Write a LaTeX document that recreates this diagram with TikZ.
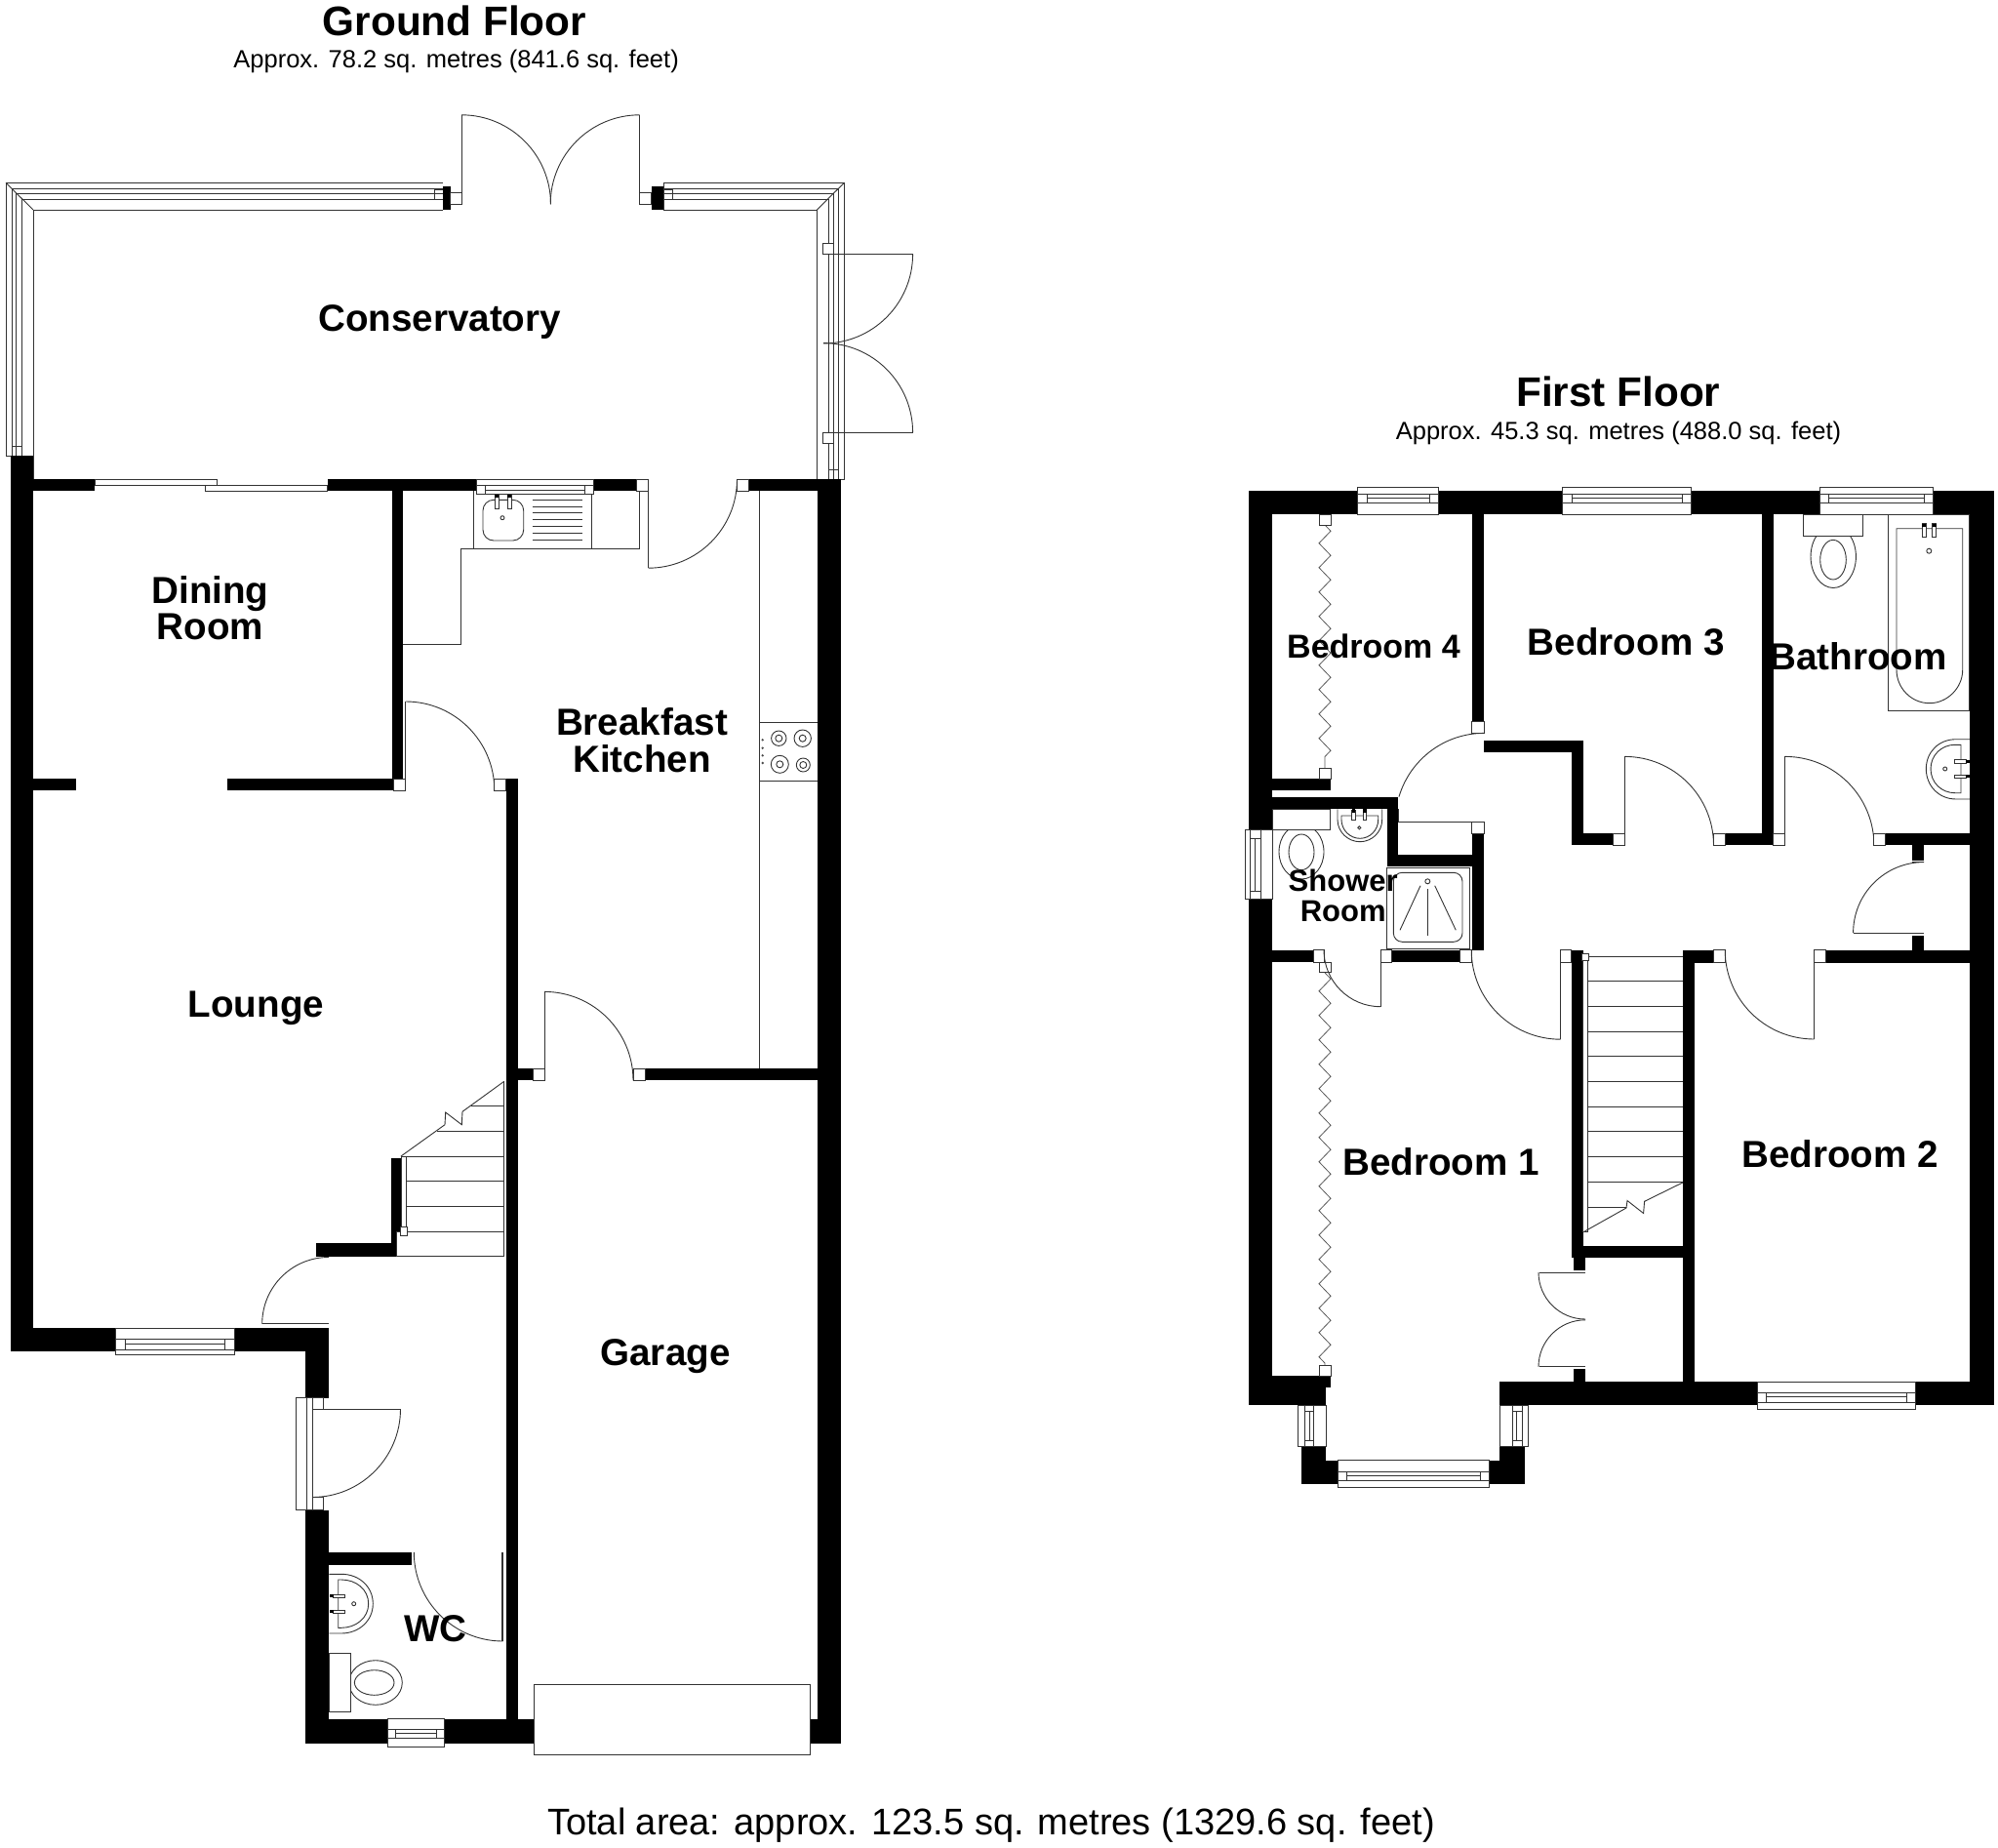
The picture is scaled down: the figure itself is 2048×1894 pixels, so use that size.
\documentclass[tikz,border=0pt]{standalone}
\usepackage{fontspec}
\setmainfont{Liberation Sans}
\usetikzlibrary{decorations.pathmorphing}
\tikzset{
  wallfill/.style={fill=black,draw=none},
  thinline/.style={draw=black!80,line width=0.9pt},
  jambbox/.style={draw=black!80,line width=0.9pt,fill=white},
  roomlabel/.style={font=\bfseries\fontsize{38.6}{37.6}\selectfont,inner sep=0pt,align=center,text=black},
  smalllabel/.style={font=\bfseries\fontsize{34}{34}\selectfont,inner sep=0pt,text=black},
  showerlabel/.style={font=\bfseries\fontsize{31}{31.6}\selectfont,inner sep=0pt,align=center,text=black},
  floortitle/.style={font=\bfseries\fontsize{42.3}{42}\selectfont,inner sep=0pt,text=black},
  subtitle/.style={font=\fontsize{25.5}{25.5}\selectfont,inner sep=0pt,text=black},
  foldline/.style={draw=black!65,line width=0.8pt,decorate,decoration={zigzag,segment length=25pt,amplitude=6pt}}
}
\newcommand{\wl}[4]{\fill[wallfill] (#1,#2) rectangle (#3,#4);}
\newcommand{\jb}[4]{\draw[jambbox] (#1,#2) rectangle (#3,#4);}
\newcommand{\arcd}[5]{\draw[thinline] ([shift={(#1,#2)}]#4:#3) arc (#4:#5:#3);}
\newcommand{\hwin}[8]{%
  \draw[jambbox] (#1,#2) rectangle (#3,#4);
  \draw[thinline] (#1,{#2+(#4-#2)*#5}) -- (#3,{#2+(#4-#2)*#5});
  \draw[thinline] (#1,{#2+(#4-#2)*#7}) -- (#3,{#2+(#4-#2)*#7});
  \draw[thinline] ({#1+#8},{#2+(#4-#2)*#5}) rectangle ({#3-#8},{#2+(#4-#2)*#7});
  \draw[thinline] ({#1+#8},{#2+(#4-#2)*#6}) -- ({#3-#8},{#2+(#4-#2)*#6});}
\newcommand{\vwin}[8]{%
  \draw[jambbox] (#1,#2) rectangle (#3,#4);
  \draw[thinline] ({#1+(#3-#1)*#5},#2) -- ({#1+(#3-#1)*#5},#4);
  \draw[thinline] ({#1+(#3-#1)*#7},#2) -- ({#1+(#3-#1)*#7},#4);
  \draw[thinline] ({#1+(#3-#1)*#5},{#2+#8}) rectangle ({#1+(#3-#1)*#7},{#4-#8});
  \draw[thinline] ({#1+(#3-#1)*#6},{#2+#8}) -- ({#1+(#3-#1)*#6},{#4-#8});}
\begin{document}
\begin{tikzpicture}[x=1pt,y=-1pt]
\useasboundingbox (0,0) rectangle (2048,1894);

%%% ================ GROUND FLOOR ================
%% conservatory frame
\draw[thinline] (454,187.3) -- (6,187.3) -- (6,467) -- (34,467);
\draw[thinline] (454,193.8) -- (12,193.8) -- (12,467);
\draw[thinline] (454,198.8) -- (16.7,198.8) -- (16.7,467);
\draw[thinline] (454,204) -- (22.3,204) -- (22.3,467);
\draw[thinline] (454,215) -- (34,215) -- (34,491);
\draw[thinline] (6,187.3) -- (34,215);
\draw[thinline] (12,457.7) -- (22.3,457.7);
\draw[thinline] (445,194.3) rectangle (454,204);
\wl{454}{191}{461.7}{215}
\jb{461.7}{197.3}{473}{209.3}
\draw[thinline] (473,209.3) -- (473,118);
\arcd{473}{209.3}{91.5}{-90}{0}
\draw[thinline] (655.7,209.3) -- (655.7,118);
\arcd{655.7}{209.3}{91.5}{-90}{-180}
\jb{655.7}{197.3}{667.7}{209.3}
\wl{667.7}{191}{680}{215}
\draw[thinline] (680,187.3) -- (865.4,187.3) -- (865.4,491.2) -- (837.4,491.2);
\draw[thinline] (680,193.8) -- (859.4,193.8) -- (859.4,491.2);
\draw[thinline] (680,198.8) -- (854.7,198.8) -- (854.7,260);
\draw[thinline] (680,204) -- (849,204) -- (849,249);
\draw[thinline] (680,215) -- (837.4,215) -- (837.4,491.2);
\draw[thinline] (865.4,187.3) -- (837.4,215);
\draw[thinline] (680,187.3) -- (680,215);
\draw[thinline] (680,194.3) rectangle (689.3,204);
\draw[thinline] (849,455) -- (849,491.2);
\draw[thinline] (854.7,455) -- (854.7,491.2);
\draw[thinline] (849,481.5) -- (859.4,481.5);
%% conservatory side doors
\draw[thinline] (849,260.4) -- (849,443.2);
\draw[thinline] (854.6,260.4) -- (854.6,443.2);
\jb{843.7}{249.3}{854.6}{260.4}
\jb{843.7}{443.2}{854.6}{454.8}
\draw[thinline] (844,260.4) -- (935.6,260.4);
\draw[thinline] (844,443.2) -- (935.6,443.2);
\arcd{844}{260.4}{91.6}{0}{90}
\arcd{844}{443.2}{91.6}{0}{-90}

%% walls
\wl{10.5}{467}{34.2}{1385}
\wl{10.5}{491}{97}{503.3}
\wl{335.5}{491}{489}{503.3}
\wl{609}{491}{652.5}{503.3}
\wl{767}{491}{861.8}{503.3}
\wl{837.5}{491}{862}{1786.6}
\wl{401.8}{503}{413.3}{810}
\wl{33.8}{798}{77.8}{810}
\wl{232.8}{798}{403}{810}
\wl{518.5}{798}{531}{1786.6}
\wl{531}{1095}{546}{1107.4}
\wl{661}{1095}{837.5}{1107.4}
\wl{10.5}{1361}{119}{1385}
\wl{240.5}{1361}{337}{1385}
\wl{313}{1361}{337}{1432.7}
\wl{313}{1547.5}{337}{1786.6}
\wl{313}{1761.7}{397}{1786.6}
\wl{455}{1761.7}{547}{1786.6}
\wl{830.6}{1761.7}{862}{1786.6}
\wl{337}{1590.8}{422}{1603.5}
\wl{401}{1186.7}{406.7}{1287}
\wl{406.7}{1186.7}{411}{1262}
\wl{324}{1274}{406}{1288}

%% jambs and doors
\jb{652.5}{491}{664.5}{503.3}
\jb{755.8}{491}{767}{503.3}
\draw[thinline] (664.5,503.3) -- (664.5,582);
\arcd{664.5}{491.2}{91}{90}{0}
\draw[jambbox] (403,798) rectangle (415.8,810);
\draw[thinline] (415.8,798) -- (415.8,719);
\arcd{415.8}{810}{91}{-90}{0}
\jb{506.4}{798}{518.5}{810}
\jb{546}{1095}{558}{1107.4}
\draw[thinline] (558,1095) -- (558,1016.8);
\arcd{558}{1107.4}{91}{-90}{0}
\jb{649}{1095}{661}{1107.4}
\draw[thinline] (268.7,1356.8) -- (337,1356.8);
\arcd{337}{1356.8}{68.3}{180}{270}

%% patio sliding door
\draw[jambbox] (97,491) rectangle (222,497.5);
\draw[jambbox] (210.5,497.5) rectangle (335.5,503.3);
%% kitchen counter
\draw[thinline] (413.3,660) -- (472.6,660) -- (472.6,562.7) -- (655,562.7) -- (655,503.3);
\draw[thinline] (485,503.3) -- (485,562.7);
\draw[thinline] (606,503.3) -- (606,562.7);
\draw[thinline] (778,503.3) -- (778,1095);
%% sink window
\draw[jambbox] (488.3,491) rectangle (608.3,506.7);
\draw[thinline] (488.3,497.7) -- (608.3,497.7);
\draw[thinline] (497.3,497.7) rectangle (599.3,506.7);
\draw[thinline] (497.3,502.3) -- (599.3,502.3);
%% sink
\draw[thinline,rounded corners=11pt] (495,512.3) rectangle (536.7,554);
\foreach \xx in {509.3,522.3}{\draw[thinline,fill=white] (\xx-2,506.7) rectangle (\xx+2,521); \fill[black] (\xx-2,506.7) rectangle (\xx+2,510);}
\draw[thinline] (515,530.7) circle (2);
\foreach \yy in {512.3,519,525.7,532.7,539,546,553.3}{\draw[thinline] (545.7,\yy) -- (596.7,\yy);}
%% hob
\draw[thinline] (778,740) -- (837.5,740);
\draw[thinline] (778,800.3) -- (837.5,800.3);
\foreach \cx/\cy/\ro in {798.3/756.7/7.7,822.7/756.7/8.7,799.3/783.3/9,823.3/784/7}{
  \draw[thinline] (\cx,\cy) circle (\ro);
  \draw[thinline] (\cx,\cy) circle (3.5);}
\foreach \yy in {758.3,766.7,774.3,782}{\fill[black!70] (781.7,\yy) circle (1.3);}

%% lounge stairs
\draw[thinline] (516.7,1108.3) -- (516.7,1287.7) -- (406,1287.7) -- (406,1262.3) -- (516.7,1262.3);
\draw[thinline] (411,1185) -- (516.7,1185);
\draw[thinline] (416.7,1210.7) -- (516.7,1210.7);
\draw[thinline] (416.7,1236.3) -- (516.7,1236.3);
\draw[thinline] (448.3,1159.3) -- (516.7,1159.3);
\draw[thinline] (482.7,1133.3) -- (516.7,1133.3);
\draw[thinline] (411,1185) -- (456,1152.7) -- (456.7,1140) -- (473.3,1152.7) -- (474,1139.3) -- (516.7,1108.3);
\draw[thinline] (411,1185) -- (411,1258);
\draw[thinline] (416.7,1185) -- (416.7,1258);
\draw[jambbox] (410,1257.7) rectangle (417.7,1266);

%% windows ground floor
\hwin{118.8}{1361}{240.5}{1388.7}{.42}{.58}{.81}{10}
\hwin{397}{1761.7}{455}{1790.4}{.38}{.5}{.7}{8}
%% front door
\draw[jambbox] (303,1432.7) rectangle (314.6,1547.5);
\draw[thinline] (314.6,1432.7) -- (320,1432.7) -- (320,1547.5) -- (314.6,1547.5);
\jb{320}{1432.7}{331}{1444}
\jb{320}{1534.7}{331}{1547.5}
\draw[thinline] (320,1444) -- (410.5,1444);
\arcd{320}{1444}{90.5}{0}{90}
%% WC door
\draw[thinline] (515.5,1590.8) -- (515.5,1682);
\draw[thinline] (514,1590.8) -- (514,1682);
\arcd{515.5}{1590.8}{91.2}{90}{180}
%% WC basin
\draw[thinline] (337.3,1613.3) -- (350,1613.3) .. controls (368,1613.3) and (382.3,1626) .. (382.3,1643.7) .. controls (382.3,1661) and (368,1674) .. (350,1674) -- (337.3,1674);
\draw[thinline] (346.7,1619) -- (350,1619) .. controls (365,1619) and (377.7,1629) .. (377.7,1643.7) .. controls (377.7,1658) and (365,1668.3) .. (350,1668.3) -- (346.7,1668.3) -- cycle;
\foreach \yy in {1635.7,1651.7}{\draw[thinline,fill=white] (341,\yy-1.7) rectangle (353.3,\yy+1.7); \fill[black] (338.3,\yy-1.7) rectangle (341.5,\yy+1.7);}
\draw[thinline] (362.7,1643.7) circle (2);
%% WC toilet
\draw[thinline] (385,1724.5) ellipse (27.3 and 22.8);
\draw[thinline] (383.7,1724.5) ellipse (20.3 and 12.8);
\draw[jambbox] (337.3,1694.3) rectangle (359,1754.3);
%% garage door
\draw[jambbox] (547,1726) rectangle (830.6,1798);

%%% ================ FIRST FLOOR ================
%% walls
\wl{1280}{503}{2044}{527.3}
\wl{1280}{503}{1304}{1440}
\wl{2018.8}{503}{2044}{1440}
\wl{1508.7}{527.3}{1521.3}{739.6}
\wl{1304}{798}{1364}{810.4}
\wl{1304}{816.7}{1433.3}{829.3}
\wl{1421.7}{816.7}{1433.3}{888}
\wl{1421.7}{875.7}{1521.3}{888.3}
\wl{1509.3}{854}{1521.3}{973.7}
\wl{1521.3}{758.6}{1623.3}{771}
\wl{1610.8}{758.6}{1623.3}{866.4}
\wl{1610.8}{854}{1653}{866.4}
\wl{1768.5}{854}{1817.8}{866.4}
\wl{1805.7}{527.3}{1817.8}{866.4}
\wl{1932.4}{854}{2018.8}{866.4}
\wl{1959.5}{866.4}{1972}{881.8}
\wl{1959.5}{958.6}{1972}{974}
\wl{1304}{973.5}{1346}{986}
\wl{1426.7}{973.5}{1496.7}{986}
\wl{1610.8}{973.7}{1622.8}{1288.7}
\wl{1612.8}{1288.7}{1625}{1302}
\wl{1612.8}{1402.7}{1625}{1416}
\wl{1622.8}{1277}{1724.8}{1288.7}
\wl{1724.8}{973.7}{1737.4}{1416}
\wl{1737.4}{973.7}{1756.5}{986.7}
\wl{1871.6}{973.7}{2018.8}{986.7}
\wl{1537.4}{1416}{2044}{1440}
\wl{1280}{1410}{1359}{1440}
\wl{1359}{1410}{1364}{1422}
\wl{1334.4}{1482}{1359}{1521}
\wl{1334.4}{1496.5}{1371.6}{1521}
\wl{1537.4}{1482}{1562.5}{1521}
\wl{1525}{1496.5}{1537.4}{1521}

%% first floor windows
\hwin{1391.7}{499.3}{1474.6}{527.3}{.24}{.41}{.585}{9.3}
\hwin{1601.7}{499.3}{1733.4}{527.3}{.24}{.41}{.585}{9.3}
\hwin{1865}{499.3}{1981.7}{527.3}{.24}{.41}{.585}{9.3}
\hwin{1801.2}{1416}{1963.5}{1444.4}{.42}{.55}{.74}{9}
\hwin{1371.6}{1496.5}{1526.3}{1524.8}{.42}{.55}{.74}{9}
\vwin{1276}{850.7}{1304}{921.7}{.21}{.38}{.58}{8.6}
\vwin{1330.9}{1440}{1359}{1482}{.25}{.42}{.55}{6}
\vwin{1537.4}{1440}{1566}{1482}{.45}{.58}{.8}{6}

%% wardrobes
\draw[foldline] (1358,538) -- (1358,787);
\jb{1352}{527.3}{1364}{538}
\jb{1352}{787}{1364}{798}
\draw[foldline] (1358,997) -- (1358,1399.7);
\jb{1352}{986}{1364}{996.7}
\jb{1352}{1399.7}{1364}{1410}

%% door bedroom 4
\jb{1508.7}{739.6}{1521.3}{751.4}
\arcd{1521.3}{842.5}{91.1}{-90}{-163.5}
\jb{1508.7}{842.3}{1521.3}{854}
\draw[thinline] (1433.3,842.3) -- (1508.7,842.3);
%% door bedroom 3
\jb{1653}{854}{1665.5}{866.4}
\draw[thinline] (1665.5,854) -- (1665.5,774.6);
\arcd{1665.5}{866.4}{91}{-90}{0}
\jb{1756.5}{854}{1768.5}{866.4}
%% door bathroom
\jb{1817.8}{854}{1829.9}{866.4}
\draw[thinline] (1829.9,854) -- (1829.9,774.6);
\arcd{1829.9}{866.4}{91}{-90}{0}
\jb{1920.8}{854}{1932.4}{866.4}
%% airing cupboard door
\draw[thinline] (1899.7,956) -- (1972,956);
\draw[thinline] (1959.5,883.6) -- (1972,883.6);
\arcd{1972}{956}{72.4}{180}{270}
%% shower door
\jb{1346}{973.5}{1357.7}{986}
\jb{1415}{973.5}{1426.7}{986}
\draw[thinline] (1415,986) -- (1415,1032.3);
\arcd{1415}{973.7}{58}{180}{90}
%% bedroom 1 door
\jb{1496.7}{973.5}{1508.7}{986}
\jb{1599.7}{973.7}{1610.8}{986.7}
\draw[thinline] (1599.7,986.7) -- (1599.7,1065.2);
\arcd{1599.7}{973.7}{91.5}{180}{90}
%% bedroom 2 door
\jb{1756.5}{973.7}{1768.5}{986.7}
\jb{1859.5}{973.7}{1871.6}{986.7}
\draw[thinline] (1859.5,986.7) -- (1859.5,1065.2);
\arcd{1859.5}{973.7}{91.3}{180}{90}
%% wardrobe doors bedroom 1
\draw[thinline] (1577.6,1304) -- (1625,1304);
\draw[thinline] (1577.6,1400.8) -- (1625,1400.8);
\arcd{1625}{1304}{48}{180}{90}
\arcd{1625}{1400.8}{48}{180}{270}

%% first floor stairs
\draw[thinline] (1622.8,980) -- (1724.8,980);
\foreach \yy in {1005.5,1031,1057,1082.8,1108.4,1134,1159.7,1185.4,1211.4}{\draw[thinline] (1627.8,\yy) -- (1724.8,\yy);}
\draw[thinline] (1627.8,1237) -- (1667,1237);
\draw[jambbox] (1622.8,980) rectangle (1627.8,1262);
\jb{1621}{977}{1628.5}{984}
\draw[thinline] (1624.3,1262) -- (1667,1238) -- (1668,1230.5) -- (1684.6,1243.5) -- (1685.6,1231.3) -- (1724.8,1212);

%% shower room fittings
\draw[thinline] (1433.3,842.3) -- (1433.3,829.3);
\draw[jambbox] (1421.7,889) rectangle (1506,972.3);
\draw[thinline,rounded corners=9pt] (1428.3,894.3) rectangle (1499,965.3);
\draw[thinline] (1463.3,903.3) circle (2.5);
\draw[thinline] (1456,907.7) -- (1435,953.3);
\draw[thinline] (1463.3,911) -- (1463.3,959);
\draw[thinline] (1470.7,907.7) -- (1492.3,953.3);
\draw[thinline] (1334,873) ellipse (23 and 28);
\draw[thinline] (1334,873.3) ellipse (13 and 18.3);
\draw[jambbox] (1304,829.3) rectangle (1363.3,850.7);
\draw[thinline] (1371,829.3) -- (1371,840) .. controls (1371,853) and (1382,862.7) .. (1394,862.7) .. controls (1406,862.7) and (1416.7,853) .. (1416.7,840) -- (1416.7,829.3);
\draw[thinline] (1375,836) -- (1375,840) .. controls (1375,851) and (1384,859.3) .. (1394,859.3) .. controls (1404,859.3) and (1412.7,851) .. (1412.7,840) -- (1412.7,836) -- cycle;
\foreach \xx in {1387.3,1399}{\draw[thinline,fill=white] (\xx-1.7,830) rectangle (\xx+1.7,840.7); \fill[black] (\xx-1.7,829.3) rectangle (\xx+1.7,832.5);}
\draw[thinline] (1393.3,848.3) circle (1.6);

%% bathroom fittings
\draw[thinline] (1879.2,570.5) ellipse (23.2 and 32);
\draw[thinline] (1879,573.7) ellipse (13.3 and 20.3);
\draw[jambbox] (1848.3,527.3) rectangle (1909.3,549.3);
\draw[jambbox] (1935.7,527.3) rectangle (2018.8,728.7);
\draw[thinline] (1944,541.7) -- (2011.7,541.7) -- (2011.7,686.7) .. controls (2011.7,705) and (1996,720.7) .. (1977.8,720.7) .. controls (1959,720.7) and (1944,705) .. (1944,686.7) -- cycle;
\foreach \xx in {1972.3,1982.7}{\draw[thinline,fill=white] (\xx-2,536.7) rectangle (\xx+2,550.7); \fill[black] (\xx-2,536.7) rectangle (\xx+2,540);}
\draw[thinline] (1977.3,564.7) circle (2.5);
\draw[thinline] (2018.8,757.7) -- (2005,757.7) .. controls (1987,757.7) and (1974.3,771) .. (1974.3,788) .. controls (1974.3,805) and (1987,819) .. (2005,819) -- (2018.8,819);
\draw[thinline] (2010,763.3) -- (2004,763.3) .. controls (1990,763.3) and (1979,774) .. (1979,788) .. controls (1979,802) and (1990,812.7) .. (2004,812.7) -- (2010,812.7) -- cycle;
\foreach \yy in {780.3,795.7}{\draw[thinline,fill=white] (2003.3,\yy-1.7) rectangle (2015,\yy+1.7); \fill[black] (2014.5,\yy-1.7) rectangle (2018.5,\yy+1.7);}
\draw[thinline] (1993.7,788) circle (2);

%%% ================ LABELS ================
\node[floortitle] (tgf) at (466,21) {Ground Floor};
\node[subtitle] (sgf) at (467.6,62.5) {Approx. 78.2 sq. metres (841.6 sq. feet)};
\node[floortitle] (tff) at (1658.8,401) {First Floor};
\node[subtitle] (sff) at (1659,444) {Approx. 45.3 sq. metres (488.0 sq. feet)};
\node[roomlabel] (conserv) at (450.6,330) {Conservatory};
\node[roomlabel] (dining) at (215.5,623) {Dining\\Room};
\node[roomlabel] (kitchen) at (658,758.5) {Breakfast\\Kitchen};
\node[roomlabel] (lounge) at (262.5,1033) {Lounge};
\node[roomlabel] (garage) at (682,1390) {Garage};
\node[roomlabel] (wc) at (446.7,1669) {WC};
\node[smalllabel] (bed4) at (1408,662) {Bedroom 4};
\node[roomlabel] (bed3) at (1666.7,658) {Bedroom 3};
\node[roomlabel] (bath) at (1904.4,672.7) {Bathroom};
\node[showerlabel] (shower) at (1376.7,918) {Shower\\Room};
\node[roomlabel] (bed1) at (1477,1191) {Bedroom 1};
\node[roomlabel] (bed2) at (1886,1183) {Bedroom 2};
\node[font=\fontsize{38}{38}\selectfont,inner sep=0pt,text=black] (total) at (1016,1871) {Total area: approx. 123.5 sq. metres (1329.6 sq. feet)};
\end{tikzpicture}
\end{document}
